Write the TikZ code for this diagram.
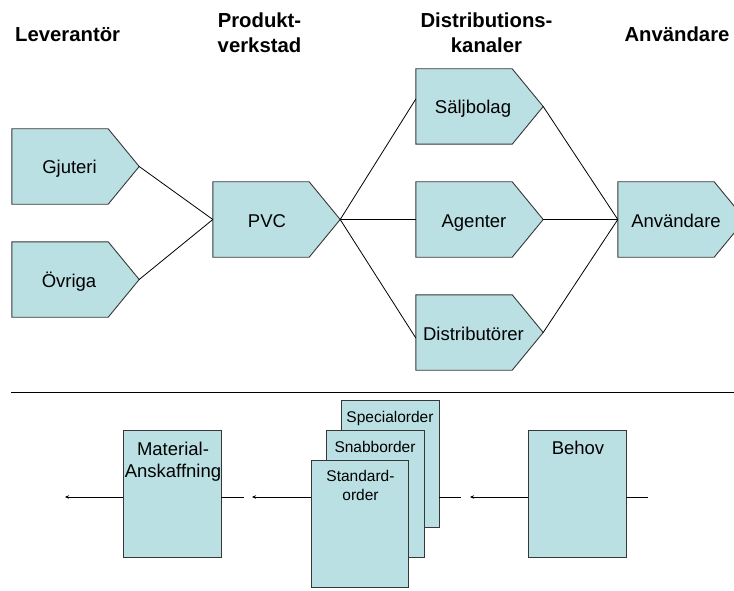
\documentclass[tikz,border=0pt]{standalone}
\usepackage{fontspec}
\setmainfont{Liberation Sans}
\usetikzlibrary{arrows.meta,calc}

\definecolor{boxfill}{RGB}{187,224,227}
\definecolor{boxline}{RGB}{55,55,55}

\tikzset{
  pentcore/.style={rectangle, minimum width=96pt, minimum height=75pt, inner sep=0pt, draw=none},
  pentshape/.style={fill=boxfill, draw=boxline, line width=0.9pt, line join=miter},
  pentlabel/.style={anchor=base, inner sep=0pt, font=\fontsize{18.5}{22}\selectfont},
  head/.style={inner sep=0pt, align=center, font=\fontsize{20.3}{25}\selectfont\bfseries},
  obox/.style={rectangle, fill=boxfill, draw=boxline, line width=0.9pt, inner sep=0pt, minimum width=98pt, minimum height=127pt},
  otext/.style={anchor=base, inner sep=0pt, align=center, font=\fontsize{18.5}{22}\selectfont},
  stext/.style={anchor=base, inner sep=0pt, align=center, font=\fontsize{15.5}{19}\selectfont},
  link/.style={draw=black, line width=0.8pt},
  flow/.style={draw=black, line width=0.8pt, -{Stealth[length=4pt,width=3.5pt]}},
}

% arrow-shaped box: name, left x, top y, label shift, label
\newcommand\arrowpent[5]{%
  \node[pentcore] (#1) at ({#2+48},{#3+37.5}) {};
  \coordinate (#1-tip) at ([xshift=31pt]#1.east);
  \path[pentshape] (#1.north west) -- (#1.north east) -- (#1-tip)
        -- (#1.south east) -- (#1.south west) -- cycle;
  \node[pentlabel] (#1-label) at ([xshift=#4pt,yshift=-7.5pt]#1.center) {#5};
}

\begin{document}
\begin{tikzpicture}[x=1pt, y=-1pt]
\useasboundingbox (0,0) rectangle (734,591);
\clip (0,0) rectangle (734,591);

% column headings (multi-line nodes are placed by their last baseline)
\node[head, anchor=base west] (h1) at (15,42) {Leverantör};
\node[head, anchor=base] (h2) at (259.5,53) {Produkt-\\verkstad};
\node[head, anchor=base] (h3) at (486.5,53) {Distributions-\\kanaler};
\node[head, anchor=base] (h4) at (677,42) {Användare};

% supply chain
\arrowpent{gj}{12}{129}{9.5}{Gjuteri}
\arrowpent{ov}{12}{242}{9}{Övriga}
\arrowpent{pvc}{213}{182}{6}{PVC}
\arrowpent{sal}{416}{69}{9}{Säljbolag}
\arrowpent{age}{416}{182}{10}{Agenter}
\arrowpent{dis}{416}{295}{9.5}{Distributörer}
\arrowpent{anv}{618}{182}{10}{Användare}

\draw[link] (gj-tip) -- (pvc.west);
\draw[link] (ov-tip) -- (pvc.west);
\draw[link] (pvc-tip) -- ([yshift=7.5pt]sal.west);
\draw[link] (pvc-tip) -- (age.west);
\draw[link] (pvc-tip) -- ([yshift=-5.5pt]dis.west);
\draw[link] (sal-tip) -- (anv.west);
\draw[link] (age-tip) -- (anv.west);
\draw[link] (dis-tip) -- (anv.west);

% divider
\coordinate (divl) at (11,392);
\coordinate (divr) at (734,392);
\draw[link] (divl) -- (divr);

% order flow
\node[obox] (mat) at (172,494) {};
\node[obox, minimum width=98pt] (spec) at (390,463.5) {};
\node[obox, minimum width=98pt] (snab) at (375,493.5) {};
\node[obox, minimum width=97pt] (std) at (359.5,523.5) {};
\node[obox] (behov) at (577,494) {};

\node[otext] (mat-label) at (173,477) {Material-\\Anskaffning};
\node[stext] (spec-label) at (390,422.3) {Specialorder};
\node[stext] (snab-label) at (375,452.5) {Snabborder};
\node[stext] (std-label) at (360.5,500.7) {Standard-\\order};
\node[otext] (behov-label) at (578,454.3) {Behov};

\coordinate (e1) at (648,497);
\coordinate (e2) at (470,497);
\coordinate (e3) at (461,497);
\coordinate (e4) at (252,497);
\coordinate (e5) at (244,497);
\coordinate (e6) at (65,497);

\draw[link] (behov.east |- e1) -- (e1);
\draw[flow] (behov.west |- e2) -- (e2);
\draw[link] (spec.east |- e3) -- (e3);
\draw[flow] (std.west |- e4) -- (e4);
\draw[link] (mat.east |- e5) -- (e5);
\draw[flow] (mat.west |- e6) -- (e6);
\end{tikzpicture}
\end{document}
